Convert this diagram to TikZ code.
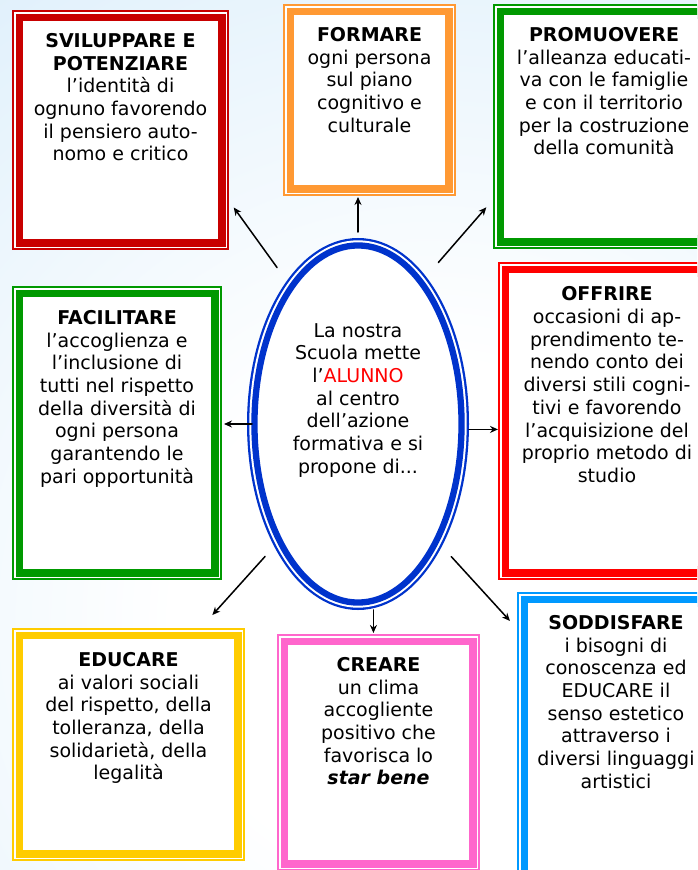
\documentclass[tikz,border=0pt]{standalone}
\usepackage{fontspec}
\setmainfont{DejaVu Sans}
\usetikzlibrary{shapes.geometric,arrows.meta}
\definecolor{bgblue}{HTML}{D5EBFA}
\definecolor{rossoscuro}{HTML}{C80000}
\definecolor{arancio}{HTML}{FF9933}
\definecolor{verde}{HTML}{009900}
\definecolor{rosso}{HTML}{FF0000}
\definecolor{giallo}{HTML}{FFCC00}
\definecolor{rosa}{HTML}{FF66CC}
\definecolor{azzurro}{HTML}{0099FF}
\definecolor{blu}{HTML}{0033CC}
\pgfdeclareradialshading{sfondo}{\pgfpoint{0bp}{0bp}}{color(0bp)=(white); color(8bp)=(white); color(30bp)=(bgblue); color(50bp)=(bgblue)}

\begin{document}
\begin{tikzpicture}[x=1pt, y=-1pt, >={Stealth[length=8pt,width=7pt]},
	cornice/.style={rectangle, draw=#1, line width=7.5pt, fill=white, inner sep=0pt, outer sep=0pt,
		preaction={draw=#1, line width=14.5pt}, preaction={draw=white, line width=11.1pt}},
	testo/.style={align=center, inner sep=0pt, font=\fontsize{19}{22.7}\selectfont},
	freccia/.style={->, line width=1.5pt, line cap=round}]
			\useasboundingbox (0,0) rectangle (697,870);
			\clip (0,0) rectangle (697,870);
			\shade[shading=sfondo] (-370,-180) rectangle (1230,1420);
			\node[cornice=rossoscuro, minimum width=202.5pt, minimum height=225.5pt] (svil) at (120.5,130) {};
			\node[testo, below=15.75pt] (svilt) at (svil.north) {\textbf{SVILUPPARE E}\\\textbf{POTENZIARE}\\l’identità di\\ognuno favorendo\\il pensiero auto-\\nomo e critico};
			\node[cornice=arancio, minimum width=158.5pt, minimum height=177.5pt] (forma) at (369.5,100) {};
			\node[testo, below=15.75pt] (format) at (forma.north) {\textbf{FORMARE}\\ogni persona\\sul piano\\cognitivo e\\culturale};
			\node[cornice=verde, minimum width=207.5pt, minimum height=230.5pt] (promu) at (604,126.5) {};
			\node[testo, below=15.75pt] (promut) at (promu.north) {\textbf{PROMUOVERE}\\l’alleanza educati-\\va con le famiglie\\e con il territorio\\per la costruzione\\della comunità};
			\node[cornice=verde, minimum width=195.5pt, minimum height=279.5pt] (facil) at (117,433) {};
			\node[testo, below=16.75pt] (facilt) at (facil.north) {\textbf{FACILITARE}\\l’accoglienza e\\l’inclusione di\\tutti nel rispetto\\della diversità di\\ogni persona\\garantendo le\\pari opportunità};
			\node[cornice=rosso, minimum width=203.5pt, minimum height=303.5pt] (offri) at (607,421) {};
			\node[testo, below=17.25pt] (offrit) at (offri.north) {\textbf{OFFRIRE}\\occasioni di ap-\\prendimento te-\\nendo conto dei\\diversi stili cogni-\\tivi e favorendo\\l’acquisizione del\\proprio metodo di\\studio};
			\node[cornice=giallo, minimum width=218.5pt, minimum height=218.5pt] (educa) at (128.5,744.5) {};
			\node[testo, below=16.75pt] (educat) at (educa.north) {\textbf{EDUCARE}\\ai valori sociali\\del rispetto, della\\tolleranza, della\\solidarietà, della\\legalità};
			\node[cornice=rosa, minimum width=188.5pt, minimum height=222.5pt] (crea) at (378.5,752.5) {};
			\node[testo, below=15.75pt] (creat) at (crea.north) {\textbf{CREARE}\\un clima\\accogliente\\positivo che\\favorisca lo\\\textbf{\textit{star bene}}};
			\node[cornice=azzurro, minimum width=183.5pt, minimum height=278.5pt] (soddi) at (616,738.5) {};
			\node[testo, below=15.75pt] (sodditt) at (soddi.north) {\textbf{SODDISFARE}\\i bisogni di\\conoscenza ed\\EDUCARE il\\senso estetico\\attraverso i\\diversi linguaggi\\artistici};
			\node[ellipse, draw=blu, line width=6.3pt, fill=white, inner sep=0pt, outer sep=0pt,
				minimum width=207.1pt, minimum height=357.1pt,
				preaction={draw=blu, line width=14.9pt}, preaction={draw=white, line width=10.3pt}] (centro) at (358,424) {};
			\node[testo, below=77.5pt] (centrot) at (centro.north) {La nostra\\Scuola mette\\l’\textcolor{rosso}{ALUNNO}\\al centro\\dell’azione\\formativa e si\\propone di...};
			\draw[freccia, shorten <=24.4pt, shorten >=20.5pt] (centro.116.1) -- (svil.-31.3);
			\draw[freccia, shorten <=13.45pt, shorten >=8.25pt] (centro.north) -- (centro.north |- forma.south);
			\draw[freccia, shorten <=26.3pt, shorten >=21.2pt] (centro.66.3) -- (promu.212.4);
			\draw[freccia, shorten <=2.45pt, shorten >=9.25pt] (centro.west) -- (facil.east |- centro.west);
			\draw[freccia, shorten <=7.6pt, shorten >=7.25pt] (centro.-3.3) -- (offri.west |- centro.-3.3);
			\draw[freccia, shorten <=21.4pt, shorten >=27.2pt] (centro.236) -- (educa.59.5);
			\draw[freccia, shorten <=9.4pt, shorten >=8.25pt] (centro.-85.15) -- (centro.-85.15 |- crea.north);
			\draw[freccia, shorten <=21.9pt, shorten >=21.2pt] (centro.-56.2) -- (soddi.132.3);
		\end{tikzpicture}
\end{document}
